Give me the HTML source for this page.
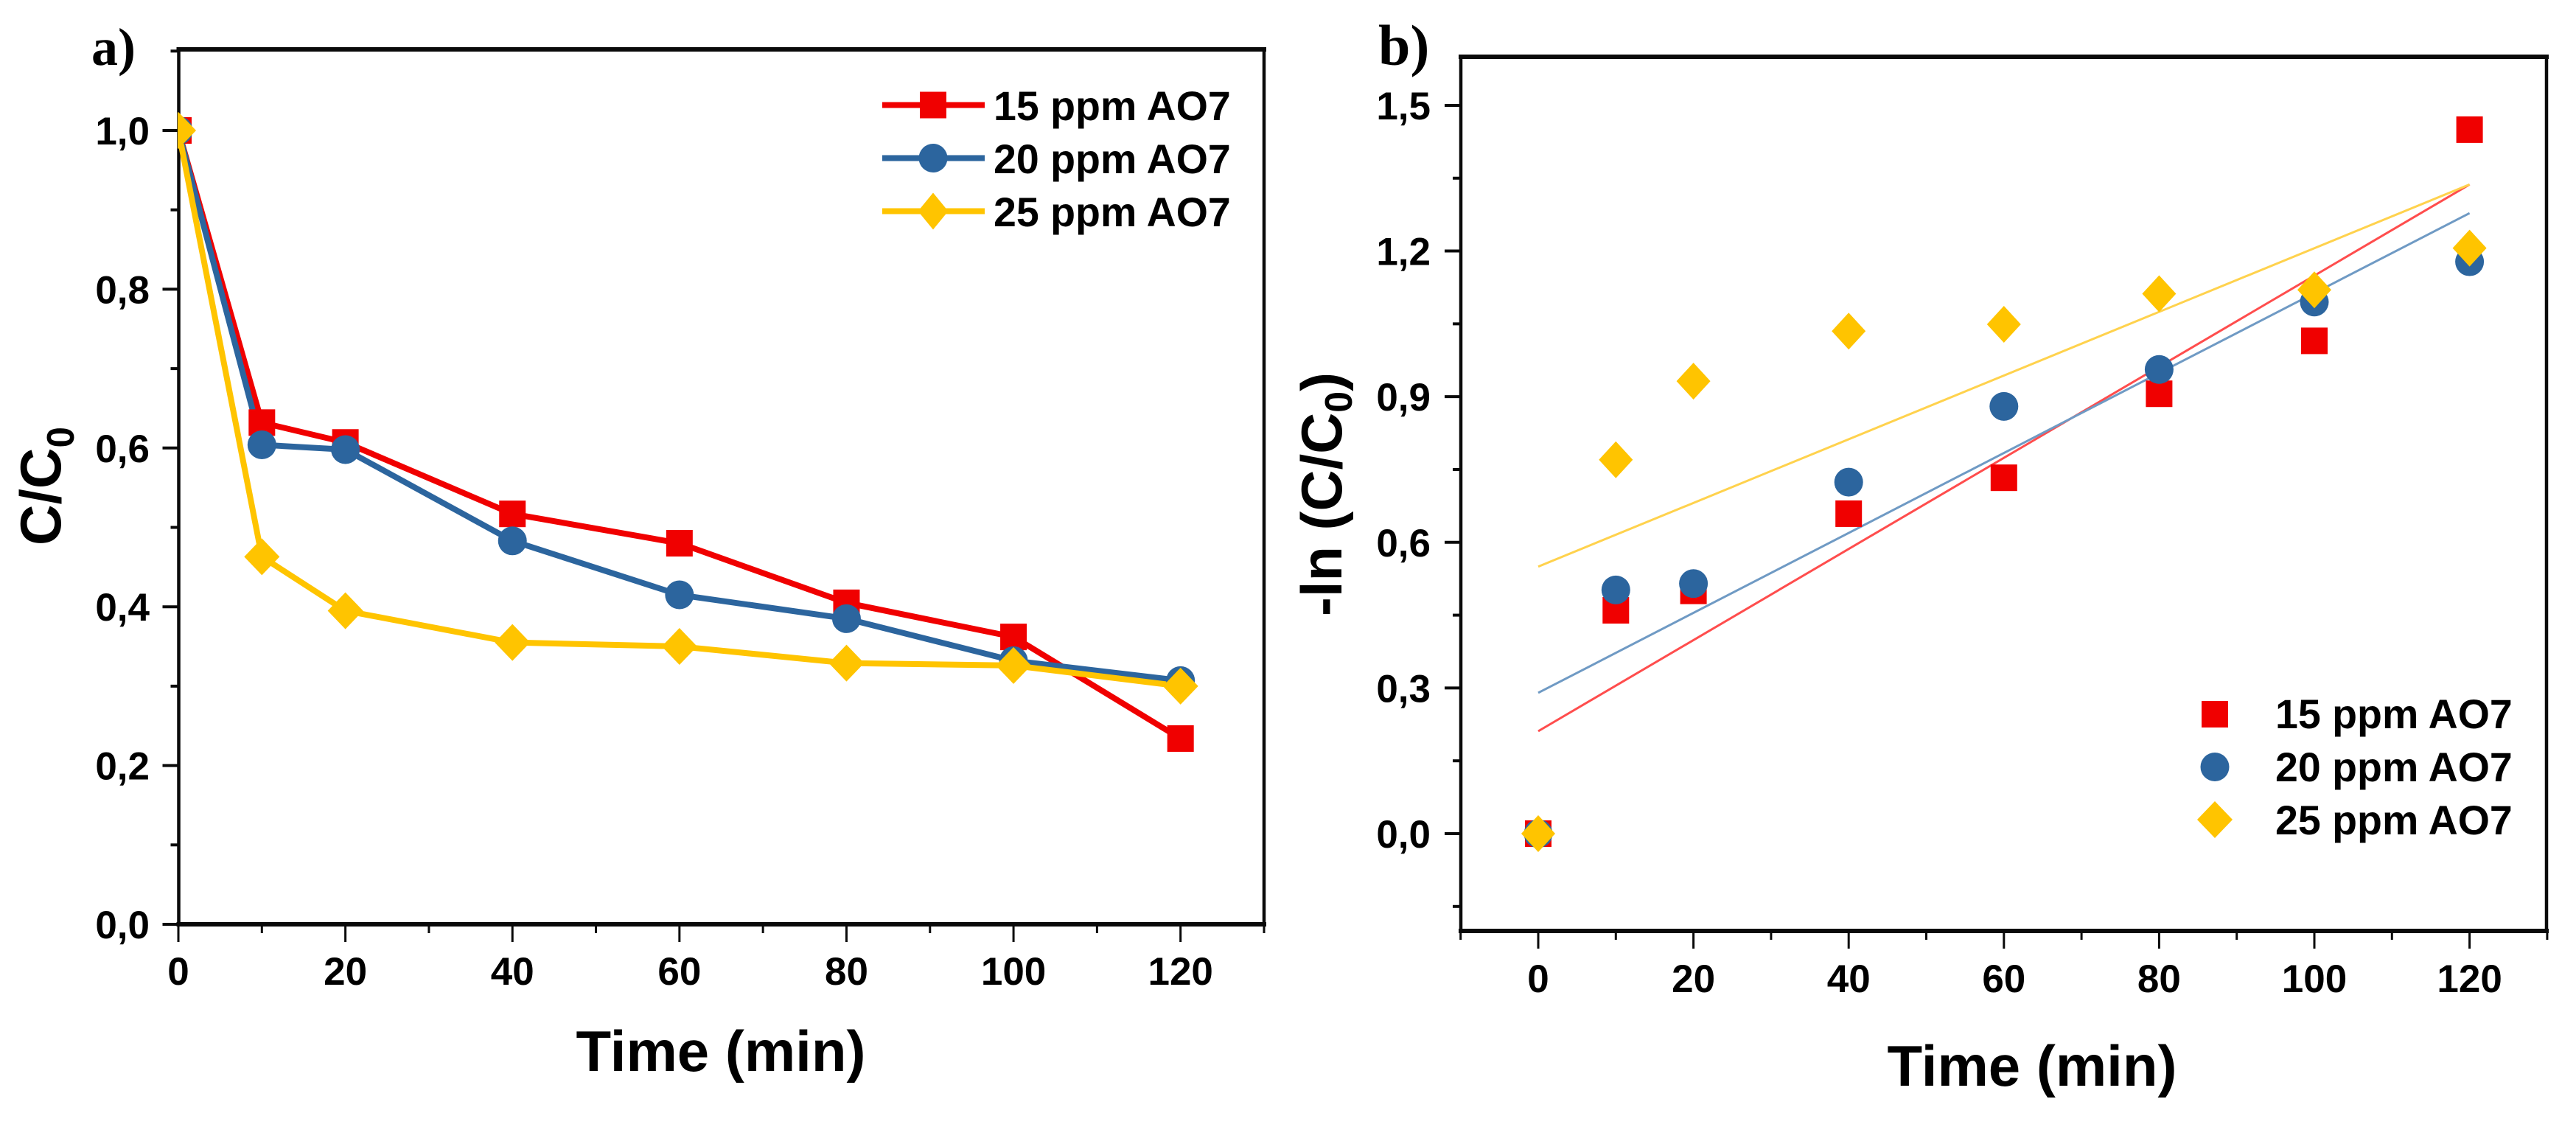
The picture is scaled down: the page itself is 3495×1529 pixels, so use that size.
<!DOCTYPE html>
<html>
<head>
<meta charset="utf-8">
<title>C/C0 and -ln(C/C0) vs Time</title>
<style>
html,body{margin:0;padding:0;background:#fff;width:3495px;height:1529px;overflow:hidden}
svg{display:block}
text{font-family:"Liberation Sans",sans-serif;font-weight:bold;fill:#000}
</style>
</head>
<body>
<svg id="chart" xmlns="http://www.w3.org/2000/svg" width="3495" height="1529" viewBox="0 0 3495 1529">
<defs><clipPath id="clipA"><rect x="241" y="60" width="1480" height="1200"/></clipPath></defs>
<g><text x="124" y="88" style="font-family:'Liberation Serif',serif;font-size:72px">a)</text></g>
<g><text x="1870" y="88" style="font-family:'Liberation Serif',serif;font-size:78px">b)</text></g>
<g id="panelA"></g>
<g id="panelB"></g>
<text x="978" y="1453" text-anchor="middle" font-size="78">Time (min)</text>
<text x="2757" y="1473" text-anchor="middle" font-size="78">Time (min)</text>
<text transform="translate(82,740) rotate(-90)" font-size="78" textLength="161" lengthAdjust="spacingAndGlyphs">C/C<tspan dy="18" font-size="52">0</tspan></text>
<text transform="translate(1820,836) rotate(-90)" font-size="78" textLength="331" lengthAdjust="spacingAndGlyphs">-ln (C/C<tspan dy="14" font-size="52">0</tspan><tspan dy="-14">)</tspan></text>
</svg>
<script>
var timesA = [0, 10, 20, 40, 60, 80, 100, 120];
var a15ppm = [1.0, 0.632, 0.607, 0.517, 0.48, 0.405, 0.362, 0.234];
var a20ppm = [1.0, 0.604, 0.598, 0.483, 0.415, 0.385, 0.332, 0.307];
var a25ppm = [1.0, 0.463, 0.395, 0.355, 0.35, 0.329, 0.326, 0.3];
var timesB = [0, 10, 20, 40, 60, 80, 100, 120];
var b15ppm = [0, 0.46, 0.5, 0.659, 0.733, 0.906, 1.015, 1.45];
var b20ppm = [0, 0.502, 0.515, 0.724, 0.88, 0.956, 1.095, 1.178];
var b25ppm = [0, 0.77, 0.932, 1.035, 1.049, 1.112, 1.12, 1.206];
var fitTimes = [0, 120];
var fit15ppm = [0.211, 1.337];
var fit20ppm = [0.29, 1.278];
var fit25ppm = [0.55, 1.337];
var xTicksMajorA = [0, 20, 40, 60, 80, 100, 120];
var xTicksMinorA = [10, 30, 50, 70, 90, 110, 130];
var yTicksMajorA = [0, 0.2, 0.4, 0.6, 0.8, 1.0];
var yTicksMinorA = [0.1, 0.3, 0.5, 0.7, 0.9, 1.1];
var yLabelsA = ["0,0", "0,2", "0,4", "0,6", "0,8", "1,0"];
var xTicksMajorB = [0, 20, 40, 60, 80, 100, 120];
var xTicksMinorB = [-10, 10, 30, 50, 70, 90, 110, 130];
var yTicksMajorB = [0, 0.3, 0.6, 0.9, 1.2, 1.5];
var yTicksMinorB = [-0.15, 0.15, 0.45, 0.75, 1.05, 1.35];
var yLabelsB = ["0,0", "0,3", "0,6", "0,9", "1,2", "1,5"];
var seriesNames = ["15 ppm AO7", "20 ppm AO7", "25 ppm AO7"];

var RED = "#f00000", BLUE = "#2c659e", YEL = "#ffc400", AX = "#0a0a0a";
var NS = "http://www.w3.org/2000/svg";

function mk(parent, tag, attrs) {
  var e = document.createElementNS(NS, tag);
  for (var k in attrs) e.setAttribute(k, attrs[k]);
  parent.appendChild(e);
  return e;
}
function marker(parent, kind, cx, cy, color, dw) {
  var m;
  if (kind === 0) m = mk(parent, "rect", {x: cx - 18, y: cy - 18, width: 36, height: 36, fill: color});
  else if (kind === 1) m = mk(parent, "ellipse", {cx: cx, cy: cy, rx: 19.5, ry: 19.5, fill: color});
  else m = mk(parent, "polygon", {points: [cx - dw, cy, cx, cy - 25, cx + dw, cy, cx, cy + 25].join(" "), fill: color});
  
  
  return m;
}
function frame(root, xf, yf, L, R, T, B, xMaj, xMin, yMaj, yMin, yLabs, xBase, yRight, yLabelEdge) {
  var lines = [[L, T, R, T, 6], [L, B, R, B, 6], [L, T, L, B, 4.5], [R, T, R, B, 4.5]];
  lines.forEach(function (p) {
    var l = mk(root, "line", {x1: p[0], y1: p[1], x2: p[2], y2: p[3], stroke: AX, "stroke-width": p[4], "stroke-linecap": "square"});
    
    
  });
  xMaj.forEach(function (v) {
    var t = mk(root, "line", {x1: xf(v), y1: B, x2: xf(v), y2: B + 24, stroke: AX, "stroke-width": 3});
    
    
    var s = mk(root, "text", {x: xf(v), y: xBase, "text-anchor": "middle", "font-size": 53});
    
    
    s.textContent = v;
  });
  xMin.forEach(function (v) {
    var t = mk(root, "line", {x1: xf(v), y1: B, x2: xf(v), y2: B + 12, stroke: AX, "stroke-width": 3});
    
    
  });
  yMaj.forEach(function (v, i) {
    var t = mk(root, "line", {x1: L - 22, y1: yf(v), x2: L, y2: yf(v), stroke: AX, "stroke-width": 4});
    
    
    var s = mk(root, "text", {x: yLabelEdge, y: yf(v) + 19, "text-anchor": "end", "font-size": 53});
    
    
    s.textContent = yLabs[i];
  });
  yMin.forEach(function (v) {
    var t = mk(root, "line", {x1: L - 11, y1: yf(v), x2: L, y2: yf(v), stroke: AX, "stroke-width": 4});
    
    
  });
}

/* Panel a */
var aL = 242.5, aR = 1715, aT = 67, aB = 1254;
function xA(v) { return 242 + v * (1715 - 242) / 130; }
function yA(v) { return aB - v * 1077; }
var pA = document.getElementById("panelA");
frame(pA, xA, yA, aL, aR, aT, aB, xTicksMajorA, xTicksMinorA, yTicksMajorA, yTicksMinorA, yLabelsA, 1336, aR, 203);
var dataA = mk(pA, "g", {"clip-path": "url(#clipA)"});


[[a15ppm, RED], [a20ppm, BLUE], [a25ppm, YEL]].forEach(function (s, k) {
  var pl = mk(dataA, "polyline", {
    points: s[0].map(function (v, i) { return xA(timesA[i]) + "," + yA(v); }).join(" "),
    fill: "none", stroke: s[1], "stroke-width": 8, "stroke-linejoin": "round"
  });
  
  
});
[[a15ppm, RED], [a20ppm, BLUE], [a25ppm, YEL]].forEach(function (s, k) {
  s[0].forEach(function (v, i) { marker(dataA, k, xA(timesA[i]), yA(v), s[1], 24); });
});
[RED, BLUE, YEL].forEach(function (c, k) {
  var ly = 142.5 + k * 72;
  var l = mk(pA, "line", {x1: 1197, y1: ly, x2: 1336, y2: ly, stroke: c, "stroke-width": 8});
  
  
  marker(pA, k, 1266, ly, c, 20.5);
  var t = mk(pA, "text", {x: 1348, y: 163 + k * 72, "font-size": 55.5});
  
  
  t.textContent = seriesNames[k];
});

/* Panel b */
var bL = 1982, bR = 3455, bT = 77, bB = 1263;
function xB(v) { return 2087 + v * 10.53; }
function yB(v) { return 1131 - v * 658.7; }
var pB = document.getElementById("panelB");
frame(pB, xB, yB, bL, bR, bT, bB, xTicksMajorB, xTicksMinorB, yTicksMajorB, yTicksMinorB, yLabelsB, 1346, bR, 1941);
[[fit15ppm, "#ff4d4d"], [fit20ppm, "#6f9ac4"], [fit25ppm, "#ffd24d"]].forEach(function (s) {
  var l = mk(pB, "line", {x1: xB(fitTimes[0]), y1: yB(s[0][0]), x2: xB(fitTimes[1]), y2: yB(s[0][1]), stroke: s[1], "stroke-width": 3});
  
  
});
[[b15ppm, RED], [b20ppm, BLUE], [b25ppm, YEL]].forEach(function (s, k) {
  s[0].forEach(function (v, i) { marker(pB, k, xB(timesB[i]), yB(v), s[1], 23); });
});
[RED, BLUE, YEL].forEach(function (c, k) {
  var ly = 969 + k * 71.5;
  marker(pB, k, 3005, ly, c, 24);
  var t = mk(pB, "text", {x: 3087, y: 988 + k * 72, "font-size": 55.5});
  
  
  t.textContent = seriesNames[k];
});
</script>
</body>
</html>
